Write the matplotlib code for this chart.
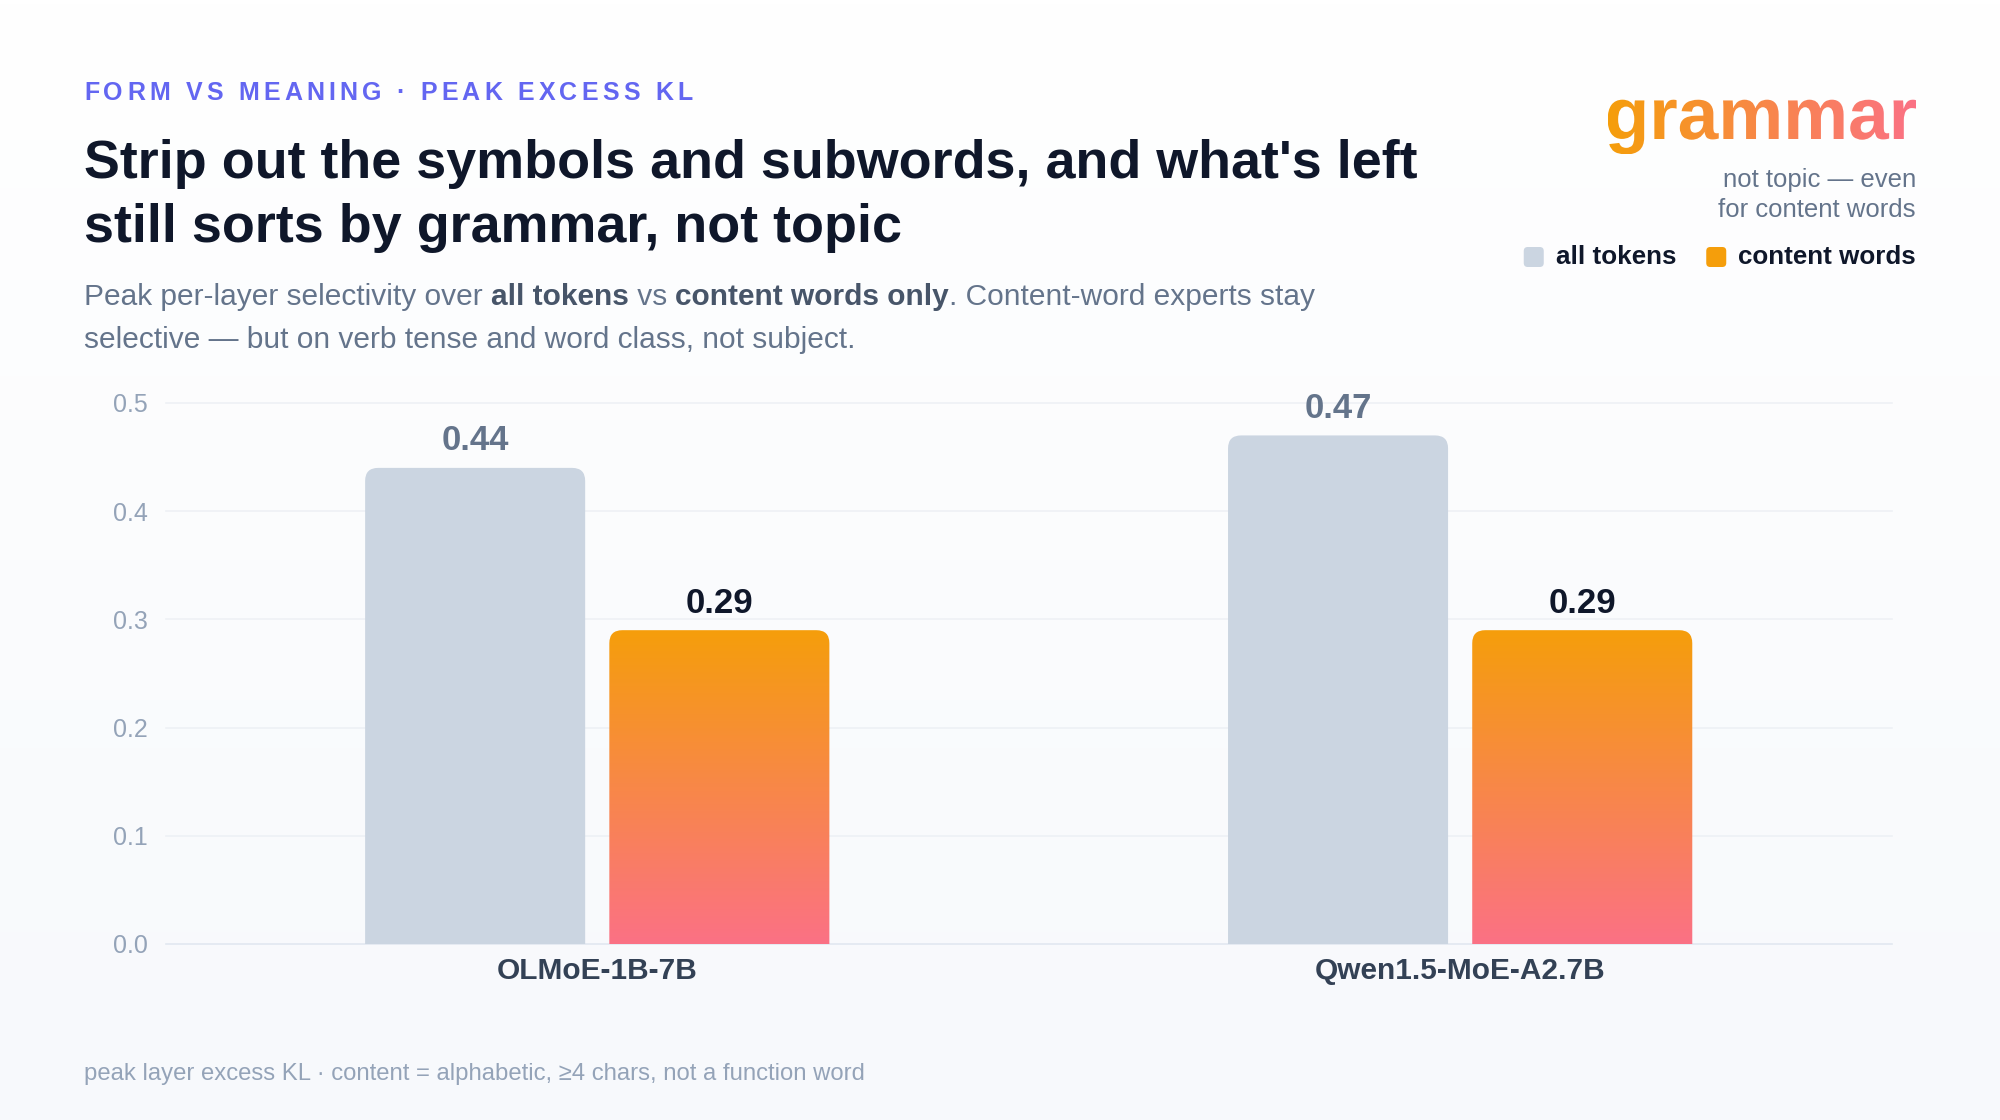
import matplotlib
matplotlib.use('Agg')
import matplotlib.pyplot as plt
import numpy as np
from matplotlib.patches import FancyBboxPatch, PathPatch
from matplotlib.textpath import TextPath
from matplotlib.font_manager import FontProperties
from matplotlib.transforms import Affine2D
from matplotlib.colors import LinearSegmentedColormap

plt.rcParams['font.family'] = ['Liberation Sans', 'DejaVu Sans']

# data
models = ['OLMoE-1B-7B', 'Qwen1.5-MoE-A2.7B']
all_tokens = [0.44, 0.47]
content_words = [0.29, 0.29]
y_ticks = [0.0, 0.1, 0.2, 0.3, 0.4, 0.5]
series_names = ['all tokens', 'content words']

kicker = 'FORM VS MEANING · PEAK EXCESS KL'
title_lines = ["Strip out the symbols and subwords, and what's left",
               'still sorts by grammar, not topic']
subtitle_lines = [
    [('Peak per-layer selectivity over ', 'normal'), ('all tokens', 'bold'),
     (' vs ', 'normal'), ('content words only', 'bold'),
     ('. Content-word experts stay', 'normal')],
    [('selective — but on verb tense and word class, not subject.', 'normal')],
]
side_word = 'grammar'
side_lines = ['not topic — even', 'for content words']
footer = 'peak layer excess KL · content = alphabetic, ≥4 chars, not a function word'

# colours
GRAY = '#CBD5E1'
ORANGE = '#F59E0B'
PINK = '#FB7185'
INK = '#0F172A'
SLATE = '#64748B'
SLATE_DARK = '#475569'
MUTED = '#94A3B8'

W, H = 2000, 1120
fig = plt.figure(figsize=(20, 11.2), dpi=100)
fig.patch.set_facecolor('white')

# overlay axes in pixel units (y downwards) for background and text
ov = fig.add_axes([0, 0, 1, 1], zorder=0)
ov.set_autoscale_on(False)
ov.set_xlim(0, W)
ov.set_ylim(H, 0)
ov.axis('off')

bg = LinearSegmentedColormap.from_list('bg', ['#FFFFFF', '#F7F9FC'])
ov.imshow(np.linspace(0, 1, 256).reshape(-1, 1), cmap=bg, extent=(0, W, H, 0),
          aspect='auto', zorder=0)

renderer = fig.canvas.get_renderer()


def advance(s, size, weight):
    t = ov.text(0, 0, s + '|', fontsize=size, fontweight=weight)
    b = ov.text(0, 0, '|', fontsize=size, fontweight=weight)
    w = t.get_window_extent(renderer).width - b.get_window_extent(renderer).width
    t.remove()
    b.remove()
    return w


def put_run(x, y, pieces, size):
    for s, weight, color in pieces:
        ov.text(x, y, s, fontsize=size, fontweight=weight, color=color,
                ha='left', va='baseline')
        x += advance(s, size, weight)
    return x


# kicker with letter spacing
x = 84
ksize = 18
for ch in kicker:
    ov.text(x, 100, ch, fontsize=ksize, fontweight='bold', color='#6366F1',
            ha='left', va='baseline')
    x += advance(ch, ksize, 'bold') + 4.2

# title
for i, line in enumerate(title_lines):
    ov.text(84, 178 + i * 64, line, fontsize=38.8, fontweight='bold', color=INK,
            ha='left', va='baseline')

# subtitle
for i, line in enumerate(subtitle_lines):
    pieces = [(s, w, SLATE_DARK if w == 'bold' else SLATE) for s, w in line]
    put_run(84, 305 + i * 43, pieces, 21.5)

# footer
ov.text(84, 1080, footer, fontsize=17.2, color=MUTED, ha='left', va='baseline')

# gradient word on the right
fp = FontProperties(family='Liberation Sans', weight='bold')
tp = TextPath((0, 0), side_word, size=73, prop=fp)
tb = tp.get_extents()
path = Affine2D().scale(1, -1).translate(1916 - tb.x1, 139).transform_path(tp)
clip = PathPatch(path, transform=ov.transData, fc='none', lw=0)
ov.add_patch(clip)
pb = path.get_extents()
hcmap = LinearSegmentedColormap.from_list('h', [ORANGE, PINK])
im = ov.imshow(np.linspace(0, 1, 256).reshape(1, -1), cmap=hcmap,
               extent=(pb.x0, pb.x1, pb.y1, pb.y0), aspect='auto', zorder=2)
im.set_clip_path(clip)

for i, line in enumerate(side_lines):
    ov.text(1916, 187 + i * 30, line, fontsize=18.5, color=SLATE,
            ha='right', va='baseline')

# legend (right to left)
leg_y = 264
right = 1916
swatch_cols = [GRAY, ORANGE]
for name, col in reversed(list(zip(series_names, swatch_cols))):
    ov.text(right, leg_y, name, fontsize=18.7, fontweight='bold', color=INK,
            ha='right', va='baseline')
    w = advance(name, 18.7, 'bold')
    sx = right - w - 12 - 20
    ov.add_patch(FancyBboxPatch((sx, leg_y - 17), 20, 20,
                                boxstyle='round,pad=0,rounding_size=4',
                                fc=col, lw=0))
    right = sx - 30

# main chart
ax = fig.add_axes([0.0829, 0.1572, 0.8629, 0.483], zorder=2)
ax.set_facecolor('none')
ax.set_xlim(-0.5, 1.5)
ax.set_ylim(0, 0.5)
for s in ax.spines.values():
    s.set_visible(False)

for t in y_ticks:
    ax.axhline(t, color='#E2E8F0' if t == 0 else '#EEF1F5', lw=1.2,
               zorder=0, clip_on=False)

xpos = np.arange(len(models))
bw = 0.255
off = 0.1415
bars_a = ax.bar(xpos - off, all_tokens, bw, color=GRAY)
bars_c = ax.bar(xpos + off, content_words, bw, color=ORANGE)

ux = 2.0 / ax.bbox.width
uy = 0.5 / ax.bbox.height
asp = uy / ux
rad = 13 * ux
vcmap = LinearSegmentedColormap.from_list('v', [ORANGE, PINK])

for bars, grad in [(bars_a, False), (bars_c, True)]:
    for rect in bars:
        rect.set_visible(False)
        x0, w, h = rect.get_x(), rect.get_width(), rect.get_height()
        p = FancyBboxPatch((x0, -0.05), w, h + 0.05,
                           boxstyle=f'round,pad=0,rounding_size={rad}',
                           mutation_aspect=asp, lw=0,
                           fc='none' if grad else GRAY, zorder=2)
        ax.add_patch(p)
        if grad:
            g = ax.imshow(np.linspace(0, 1, 256).reshape(-1, 1), cmap=vcmap,
                          extent=(x0, x0 + w, 0, h), aspect='auto', zorder=2)
            g.set_clip_path(p)
        ax.annotate(f'{h:.2f}', (x0 + w / 2, h), xytext=(0, 19.5),
                    textcoords='offset points', ha='center', va='center',
                    fontsize=25, fontweight='bold',
                    color=INK if grad else SLATE)

ax.set_xlim(-0.5, 1.5)
ax.set_ylim(0, 0.5)
ax.set_xticks(xpos)
ax.set_xticklabels(models, fontsize=21.5, fontweight='bold', color='#334155')
ax.set_yticks(y_ticks)
ax.set_yticklabels([f'{t:.1f}' for t in y_ticks], fontsize=18, color=MUTED)
ax.tick_params(axis='both', length=0)
ax.tick_params(axis='y', pad=13)
ax.tick_params(axis='x', pad=9.5)

fig.savefig('out.png', dpi=100)
